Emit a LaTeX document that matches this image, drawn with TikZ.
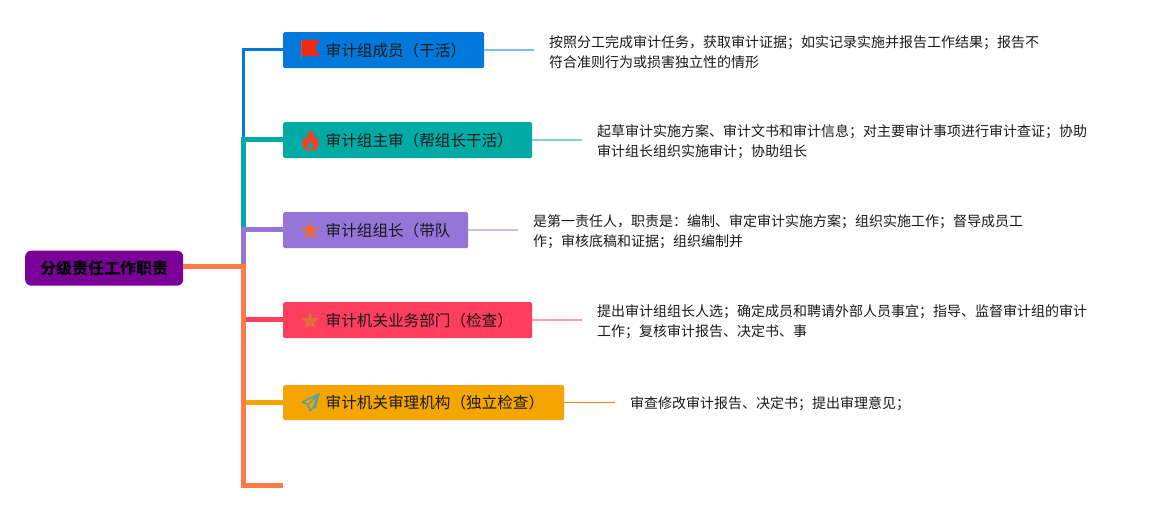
\documentclass[tikz,border=0pt]{standalone}
\usepackage{fontspec}
\setmainfont{Noto Sans CJK SC}
\usetikzlibrary{shapes.geometric}
\definecolor{cblue}{HTML}{0078DC}
\definecolor{cteal}{HTML}{00ABA5}
\definecolor{cpurple}{HTML}{9575D8}
\definecolor{cred}{HTML}{FF3D5C}
\definecolor{cgold}{HTML}{F5A500}
\definecolor{corange}{HTML}{FF7A45}
\definecolor{croot}{HTML}{7A0099}
\definecolor{ink}{HTML}{1A1A1A}
\definecolor{cflag}{HTML}{F02A10}
\definecolor{cflame}{HTML}{E8452A}
\definecolor{cstara}{HTML}{E86A35}
\definecolor{cstarb}{HTML}{E0703A}
\definecolor{cplane}{HTML}{4FA3A5}
\tikzset{
  x=1pt,y=-1pt,
  rootbox/.style={draw=none,fill=croot,rounded corners=6pt,minimum width=158pt,minimum height=35pt,inner sep=0pt,font=\fontsize{16pt}{20pt}\selectfont\bfseries,text=black,anchor=north west},
  topicbox/.style={draw=none,rounded corners=1.5pt,minimum width=#1,text width=#1,minimum height=36pt,inner xsep=0pt,inner ysep=0pt,align=left,font=\fontsize{15.6pt}{20pt}\selectfont,text=ink,anchor=north west},
  desc/.style={align=left,anchor=west,inner xsep=15pt,inner ysep=0pt,font=\fontsize{14pt}{20pt}\selectfont,text=ink},
  branch/.style={line width=#1,line join=miter},
  leaf/.style={line width=1.6pt},
  staricon/.style={star,star points=5,star point ratio=2.4,minimum size=19pt,inner sep=0pt,draw=none},
}
\begin{document}
\begin{tikzpicture}
\useasboundingbox (0,0) rectangle (1157,510);
\fill[white] (0,0) rectangle (1157,510);
\node[rootbox] (root) at (25,250.5) {分级责任工作职责};
\node[topicbox=201pt,fill=cblue] (b1) at (283,32) {\hspace*{42.5pt}审计组成员（干活）};
\node[topicbox=249pt,fill=cteal] (b2) at (283,122) {\hspace*{42.5pt}审计组主审（帮组长干活）};
\node[topicbox=185pt,fill=cpurple] (b3) at (283,212) {\hspace*{42.5pt}审计组组长（带队};
\node[topicbox=249pt,fill=cred] (b4) at (283,302) {\hspace*{42.5pt}审计机关业务部门（检查）};
\node[topicbox=281pt,fill=cgold,minimum height=35pt] (b5) at (283,385) {\hspace*{42.5pt}审计机关审理机构（独立检查）};
\node[desc] (t1) at (534,52) {按照分工完成审计任务，获取审计证据；如实记录实施并报告工作结果；报告不\\符合准则行为或损害独立性的情形};
\node[desc] (t2) at (582,142) {起草审计实施方案、审计文书和审计信息；对主要审计事项进行审计查证；协助\\审计组长组织实施审计；协助组长};
\node[desc] (t3) at (518,232) {是第一责任人，职责是：编制、审定审计实施方案；组织实施工作；督导成员工\\作；审核底稿和证据；组织编制并};
\node[desc] (t4) at (582,322) {提出审计组组长人选；确定成员和聘请外部人员事宜；指导、监督审计组的审计\\工作；复核审计报告、决定书、事};
\node[desc] (t5) at (615,404) {审查修改审计报告、决定书；提出审理意见；};
\coordinate (tk) at (243,267);
\coordinate (end) at (283,485);
\coordinate (bot) at (243,485);
% leaf lines
\draw[leaf,draw=cblue!50!white] (b1.east |- 0,50) -- (t1.west |- 0,50);
\draw[leaf,draw=cteal!50!white] (b2.east |- 0,140) -- (t2.west |- 0,140);
\draw[leaf,draw=cpurple!50!white] (b3.east |- 0,230) -- (t3.west |- 0,230);
\draw[leaf,draw=cred!50!white] (b4.east |- 0,320) -- (t4.west |- 0,320);
\draw[line width=1pt,draw=cgold!90!black] (b5.east |- 0,402.5) -- (t5.west |- 0,402.5);
% branches
\draw[branch=3pt,draw=cblue] (b1.west |- 0,50) -| (tk);
\draw[branch=5pt,draw=cteal] (b2.west |- 0,140) -| (tk);
\draw[branch=5pt,draw=cpurple] (b3.west |- 0,230) -| (tk);
\draw[branch=5pt,draw=cred] (b4.west |- 0,320) -- (tk |- 0,320);
\draw[branch=5pt,draw=cgold] (b5.west |- 0,402.5) -- (tk |- 0,402.5);
\draw[branch=5pt,draw=corange] (root.east |- tk) -- (tk) -- (bot) -- (end);
% icons
\fill[fill=cflag] (301.7,40) -- (319.5,40) -- (315,48) -- (320,56) -- (301.7,56) -- cycle;
\draw[line width=0.8pt,draw=cflag!70!black!70!white] (301.7,40) -- (300.8,60.5);
\fill[fill=cflame,even odd rule] (311,129.5) .. controls (312,134) and (319,138) .. (319,144) .. controls (319,149) and (315,150.5) .. (310.5,150.5) .. controls (305,150.5) and (302,147.5) .. (302,143) .. controls (302,140) and (303.5,138.5) .. (304.5,136.5) .. controls (305,138.5) and (306,139.5) .. (307,139.5) .. controls (307,136) and (308,132) .. (311,129.5) -- cycle
 (310.5,141) .. controls (310.5,144) and (307.5,145) .. (307.5,147) .. controls (307.5,149) and (313.5,149) .. (313.5,146.5) .. controls (313.5,144.5) and (311.5,143.5) .. (310.5,141) -- cycle;
\node[staricon,fill=cstara] (s3) at (310,231) {};
\node[staricon,fill=cstarb] (s4) at (310,321) {};
\draw[line width=1.4pt,draw=cplane,line join=round] (319,394) -- (302.5,402) -- (308,404.5) -- (310,411) -- (313.5,407) -- (315,408) -- cycle (308,404.5) -- (319,394) -- (313.5,407);
\end{tikzpicture}
\end{document}
